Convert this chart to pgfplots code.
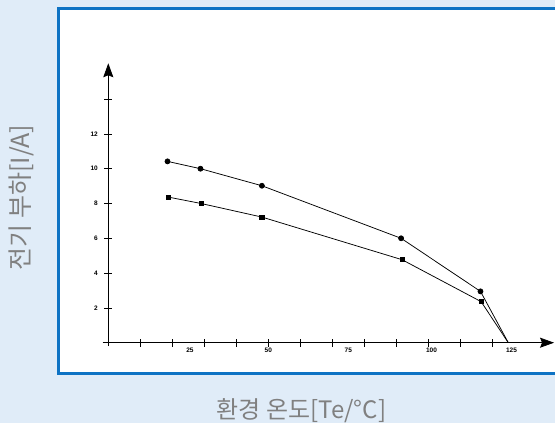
\documentclass[border=0pt]{standalone}
\usepackage{fontspec}
\setmainfont{Liberation Sans}
\newfontfamily\kr{Noto Sans CJK KR}
\usepackage{pgfplots}
\pgfplotsset{compat=1.18}
\usetikzlibrary{arrows.meta}
\definecolor{bgblue}{RGB}{224,236,248}
\definecolor{frameblue}{RGB}{14,115,196}
\definecolor{labgray}{RGB}{128,128,128}
\begin{document}
\begin{tikzpicture}[x=1pt,y=1pt]
\useasboundingbox (0,0) rectangle (555,423);
\fill[bgblue] (0,0) rectangle (555,423);
\filldraw[fill=white, draw=frameblue, line width=3pt] (58,49) rectangle (565,414);
\begin{axis}[
  at={(108.3pt,80.3pt)}, anchor=origin,
  x=3.2pt, y=17.4pt,
  xmin=-1.8, xmax=139.3, ymin=-0.2, ymax=16.06,
  axis lines=middle,
  axis line style={black, line width=0.8pt},
  every inner x axis line/.append style={-{Stealth[length=14pt,width=10pt,inset=2pt]}},
  every inner y axis line/.append style={-{Stealth[length=14pt,width=10pt,inset=2pt]}},
  tick style={black, line width=0.7pt},
  major tick length=8pt,
  tick align=center,
  /pgf/number format/assume math mode=true,
  ticklabel style={font=\fontsize{6.5}{7}\selectfont\bfseries, text=black},
  xtick={10,20,...,120},
  xticklabels={},
  extra x ticks={25.5,50,75,101,126},
  extra x tick labels={25,50,75,100,125},
  extra x tick style={major tick length=0pt, xticklabel style={yshift=-2pt}},
  ytick={2,4,...,14},
  yticklabels={2,4,6,8,10,12,},
  yticklabel style={xshift=-3pt},
  clip=false,
]
\addplot[black, line width=0.75pt, mark=*, mark size=2.5pt, mark indices={1,2,3,4,5}]
  coordinates {(18.5,10.42)(28.8,10.0)(48,9.02)(91.5,6.0)(116.3,2.95)(125,0)};
\addplot[black, line width=0.75pt, mark=square*, mark size=2.1pt, mark indices={1,2,3,4,5}]
  coordinates {(18.7,8.37)(29,8.0)(48,7.22)(91.8,4.77)(116.5,2.36)(125,0)};
\end{axis}
\node[font=\kr\fontsize{24}{27}\selectfont, text=labgray] at (301.5,12.5) {환경 온도[Te/°C]};
\node[font=\kr\fontsize{25}{28}\selectfont, text=labgray, rotate=90] at (21,225.5) {전기 부하[I/A]};
\end{tikzpicture}
\end{document}
